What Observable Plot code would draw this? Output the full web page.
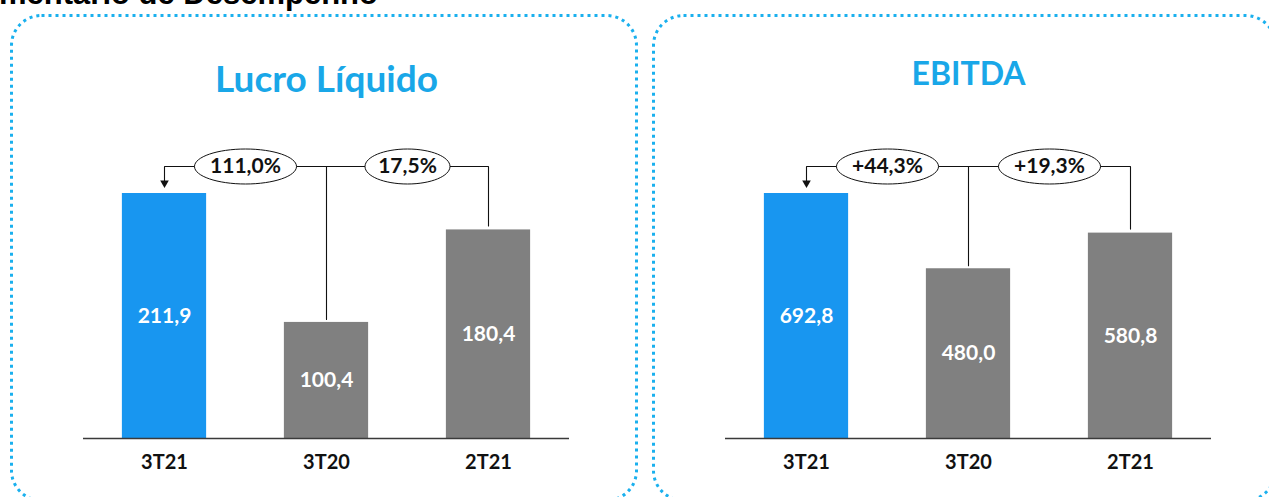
<!DOCTYPE html>
<html><head><meta charset="utf-8">
<script src="https://cdn.jsdelivr.net/npm/d3@7"></script>
<script src="https://cdn.jsdelivr.net/npm/@observablehq/plot@0.6"></script>
<style>
html,body{margin:0;padding:0;background:#fff;}
#stage{position:relative;width:1269px;height:497px;overflow:hidden;background:#fff;}
.panel{position:absolute;top:0;height:497px;}
#deco{position:absolute;left:0;top:0;pointer-events:none;}
</style></head><body>
<div id="stage">
  <div id="p1" class="panel" style="left:0;width:636px"></div>
  <div id="p2" class="panel" style="left:645px;width:624px"></div>
  <svg id="deco" width="1269" height="497">
    <text x="378" y="4" text-anchor="end" font-family="'Liberation Sans', Arial, sans-serif" font-weight="bold" font-size="31" fill="#000">Comentário de Desempenho</text>
    <rect x="11.5" y="15.5" width="625" height="485" rx="30" fill="none" stroke="#1ab0ee" stroke-width="3" stroke-dasharray="3 4"/>
    <rect x="653.5" y="15.5" width="622" height="485" rx="30" fill="none" stroke="#1ab0ee" stroke-width="3" stroke-dasharray="3 4"/>
  </svg>
</div>
<script>
const periods = ["3T21", "3T20", "2T21"];
const lucroValues = [211.9, 100.4, 180.4];
const lucroChanges = ["111,0%", "17,5%"];
const ebitdaValues = [692.8, 480.0, 580.8];
const ebitdaChanges = ["+44,3%", "+19,3%"];
const panelTitles = ["Lucro Líquido", "EBITDA"];
const barColors = ["#1896f0", "#808080", "#808080"];

function ellipseSymbol(rx, ry) {
  return {
    draw(ctx) {
      const k = 0.5523, ox = rx * k, oy = ry * k;
      ctx.moveTo(-rx, 0);
      ctx.bezierCurveTo(-rx, -oy, -ox, -ry, 0, -ry);
      ctx.bezierCurveTo(ox, -ry, rx, -oy, rx, 0);
      ctx.bezierCurveTo(rx, oy, ox, ry, 0, ry);
      ctx.bezierCurveTo(-ox, ry, -rx, oy, -rx, 0);
      ctx.closePath();
    }
  };
}

function panel({title, values, changes, width, marginLeft, marginRight, titleDy, titleSize}) {
  const height = 497, marginTop = 100, marginBottom = 59;
  const frameH = height - marginTop - marginBottom;
  const maxV = d3.max(values);
  const top = maxV * frameH / 245;
  const px = n => n * top / frameH;
  const level = maxV + px(27);
  const rows = values.map((v, i) => ({i, period: periods[i], value: v, color: barColors[i]}));
  const labels = changes.map((c, k) => ({x: k + 0.5, text: c}));
  const connectors = [
    {seg: "a", x: 1, y: values[1] + px(3)},
    {seg: "a", x: 1, y: level},
    {seg: "a", x: 0, y: level},
    {seg: "a", x: 0, y: values[0] + px(12)},
    {seg: "b", x: 1, y: level},
    {seg: "b", x: 2, y: level},
    {seg: "b", x: 2, y: values[2] + px(4)}
  ];
  return Plot.plot({
    width, height, marginTop, marginBottom, marginLeft, marginRight,
    style: {background: "transparent", fontFamily: "Lato, sans-serif", fontSize: "20px", fontWeight: "bold", color: "#111"},
    x: {domain: [-0.5, 2.5]},
    y: {domain: [0, top], axis: null},
    marks: [
      Plot.rectY(rows, {x1: d => d.i - 0.26, x2: d => d.i + 0.26, y: "value", fill: "color"}),
      Plot.ruleY([0], {stroke: "#3a3a3a", strokeWidth: 1.6}),
      Plot.axisX({ticks: [0, 1, 2], tickFormat: i => periods[i], tickSize: 0, tickPadding: 16, label: null}),
      Plot.text(rows, {x: "i", y: d => d.value / 2, text: d => d.value.toFixed(1).replace(".", ","), fill: "white", fontSize: 21, fontWeight: "bold"}),
      Plot.line(connectors, {x: "x", y: "y", z: "seg", stroke: "#111", strokeWidth: 1.1, strokeLinejoin: "miter", curve: "linear"}),
      Plot.dot([0], {x: 0, y: values[0] + px(10.6), symbol: "triangle", r: 3.2, rotate: 180, fill: "#111", stroke: null}),
      ...labels.map(l => Plot.dot([l], {x: "x", y: level, symbol: ellipseSymbol(l.text.length * 8.5, 17.5), r: 5, fill: "white", stroke: "#111", strokeWidth: 1})),
      Plot.text(labels, {x: "x", y: level, text: "text", fontSize: 21, fontWeight: "bold", fill: "#111"}),
      Plot.text([title], {frameAnchor: "top", lineAnchor: "middle", dy: titleDy, text: d => d, fontSize: titleSize, fontWeight: "bold", fill: "#19a7e8"})
    ]
  });
}

document.getElementById("p1").appendChild(panel({
  title: panelTitles[0], values: lucroValues, changes: lucroChanges,
  width: 636, marginLeft: 83, marginRight: 67, titleDy: -20, titleSize: 37
}));
document.getElementById("p2").appendChild(panel({
  title: panelTitles[1], values: ebitdaValues, changes: ebitdaChanges,
  width: 624, marginLeft: 80, marginRight: 58, titleDy: -26, titleSize: 32
}));
</script>
</body></html>
